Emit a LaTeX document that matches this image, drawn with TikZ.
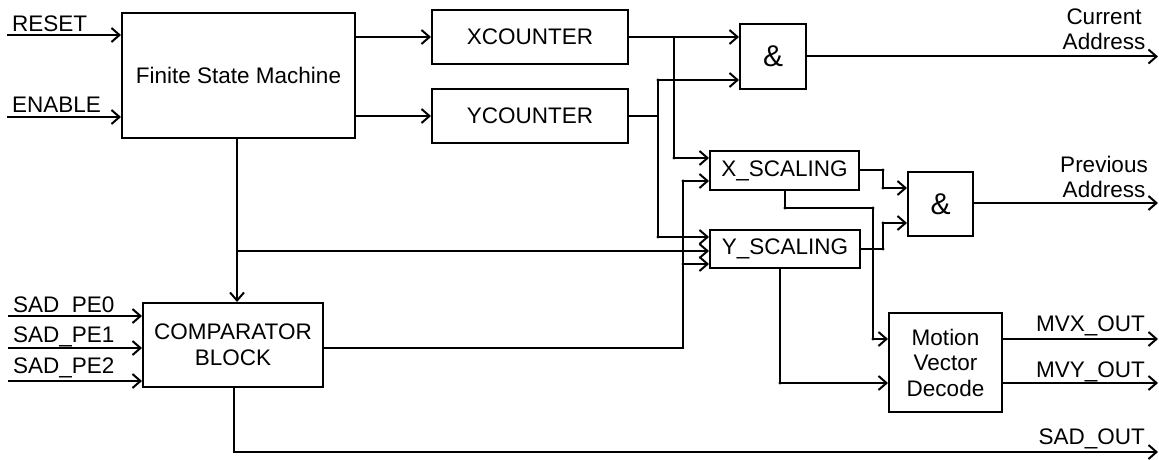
\documentclass[tikz,border=0pt]{standalone}
\usepackage{fontspec}
\setmainfont{Liberation Sans}
\usetikzlibrary{arrows.meta}

\tikzset{
  wire/.style={line width=2pt, line join=miter},
  arr/.style={wire, -{Straight Barb[length=8pt,width=14pt,line width=2pt]}},
  blk/.style={draw, line width=2pt, rectangle, inner sep=0pt, align=center,
              font=\fontsize{22.5}{25.5}\selectfont},
  andgate/.style={blk, font=\fontsize{30}{32}\selectfont},
  sig/.style={inner sep=0pt, font=\fontsize{22.5}{25}\selectfont},
  jdot/.style={fill=black},
}

\begin{document}
\begin{tikzpicture}[x=1pt, y=-1pt]
\useasboundingbox (0,0) rectangle (1159,460);

% ---- blocks ----
\node[blk, minimum width=233, minimum height=125] (fsm)  at (238.5,75.5) {Finite State Machine};
\node[blk, minimum width=196, minimum height=54]  (xc)   at (530,37)     {XCOUNTER};
\node[blk, minimum width=196, minimum height=54]  (yc)   at (530,116)    {YCOUNTER};
\node[andgate, minimum width=66, minimum height=65] (and1) at (773,56.5) {\&};
\node[blk, minimum width=149, minimum height=39]  (xsc)  at (784.5,170.5) {X\_SCALING};
\node[blk, minimum width=150, minimum height=38]  (ysc)  at (785,249)    {Y\_SCALING};
\node[andgate, minimum width=65, minimum height=64] (and2) at (940.5,204) {\&};
\node[blk, minimum width=180, minimum height=84]  (comp) at (233,345)    {COMPARATOR\\BLOCK};
\node[blk, minimum width=113, minimum height=99]  (mvd)  at (945.5,362.5) {Motion\\Vector\\Decode};

% ---- free ends and wire corners ----
\coordinate (redge) at (1158,0);
\coordinate (pa) at (1158,203);
\coordinate (reset) at (7,35);
\coordinate (enable) at (7,117);
\coordinate (pe0) at (8,316);
\coordinate (pe1) at (8,348);
\coordinate (pe2) at (8,381);

\coordinate (xj)  at (674,37);
\coordinate (xj2) at (674,158);
\coordinate (yj0) at (658,116);
\coordinate (yj)  at (658,80);
\coordinate (yj2) at (658,237);
\coordinate (fj)  at (237,251);
\coordinate (cj0) at (683,348);
\coordinate (cj)  at (683,181);
\coordinate (cj2) at (683,264);
\coordinate (aj1) at (883,170);
\coordinate (aj2) at (883,188);
\coordinate (aj3) at (883,249);
\coordinate (aj4) at (883,223);
\coordinate (sj1) at (785,208);
\coordinate (sj2) at (873,208);
\coordinate (sj3) at (873,339);
\coordinate (tj)  at (780,383);
\coordinate (oj)  at (234,452);

% ---- primary inputs ----
\draw[arr] (reset)  -- (reset -| fsm.west);
\draw[arr] (enable) -- (enable -| fsm.west);
\draw[arr] (pe0) -- (pe0 -| comp.west);
\draw[arr] (pe1) -- (pe1 -| comp.west);
\draw[arr] (pe2) -- (pe2 -| comp.west);

% ---- FSM to counters ----
\draw[arr] (fsm.east |- xc) -- (xc.west);
\draw[arr] (fsm.east |- yc) -- (yc.west);

% ---- counters to address logic ----
\draw[arr] (xc.east) -- (and1.west |- xc.east);
\draw[arr] (xj) -- (xj2) -- (xj2 -| xsc.west);
\draw[wire] (yc.east) -- (yj0);
\draw[wire] (yj) -- (yj2);
\draw[arr] (yj) -- (yj -| and1.west);
\draw[arr] (yj2) -- (yj2 -| ysc.west);

% ---- FSM control line ----
\draw[arr] (fsm.south -| fj) -- (comp.north -| fj);
\draw[arr] (fj) -- (fj -| ysc.west);

% ---- comparator result ----
\draw[wire] (comp.east |- cj0) -- (cj0) -- (cj);
\draw[arr] (cj) -- (cj -| xsc.west);
\draw[arr] (cj2) -- (cj2 -| ysc.west);

% ---- scaling to previous address ----
\draw[arr] (xsc.east |- aj1) -- (aj1) -- (aj2) -- (aj2 -| and2.west);
\draw[arr] (ysc.east |- aj3) -- (aj3) -- (aj4) -- (aj4 -| and2.west);

% ---- scaling to motion vector decode ----
\draw[arr] (xsc.south -| sj1) -- (sj1) -- (sj2) -- (sj3) -- (sj3 -| mvd.west);
\draw[arr] (ysc.south -| tj) -- (tj) -- (tj -| mvd.west);

% ---- outputs ----
\draw[arr] (and1.east) -- (and1.east -| redge);
\draw[arr] (and2.east |- pa) -- (pa);
\draw[arr] (mvd.east |- sj3) -- (sj3 -| redge);
\draw[arr] (mvd.east |- tj) -- (tj -| redge);
\draw[arr] (comp.south -| oj) -- (oj) -- (oj -| redge);

% ---- wire corner dots ----
\foreach \p in {yj,yj2,xj2,cj,cj2,aj1,aj2,aj3,aj4,sj1,sj2,sj3,tj}
  \fill[jdot] (\p) circle (1.7);

% ---- signal names ----
\node[sig, anchor=base west] (lreset)  at (12,32)  {RESET};
\node[sig, anchor=base west] (lenable) at (12,112) {ENABLE};
\node[sig, anchor=base west] (lpe0) at (13,312) {SAD\_PE0};
\node[sig, anchor=base west] (lpe1) at (13,342) {SAD\_PE1};
\node[sig, anchor=base west] (lpe2) at (13,373) {SAD\_PE2};

\node[sig, anchor=base] (lcur1) at (1104,25)  {Current};
\node[sig, anchor=base] (lcur2) at (1104,50)  {Address};
\node[sig, anchor=base] (lprv1) at (1104,172) {Previous};
\node[sig, anchor=base] (lprv2) at (1104,197) {Address};
\node[sig, anchor=base east] (lmvx) at (1145,331) {MVX\_OUT};
\node[sig, anchor=base east] (lmvy) at (1145,377) {MVY\_OUT};
\node[sig, anchor=base east] (lsad) at (1145,444) {SAD\_OUT};
\end{tikzpicture}
\end{document}
